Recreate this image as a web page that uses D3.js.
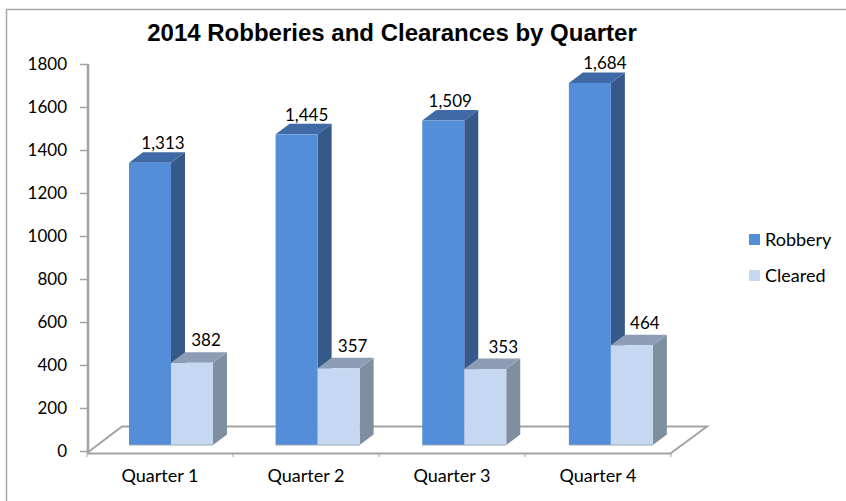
<!DOCTYPE html>
<html><head><meta charset="utf-8">
<script src="https://cdn.jsdelivr.net/npm/d3@7"></script>
<style>html,body{margin:0;padding:0;background:#fff}svg{display:block}text{fill:#000}</style>
</head><body><svg id="c" width="846" height="501"></svg>
<script>
const title = "2014 Robberies and Clearances by Quarter";
const categories = ["Quarter 1","Quarter 2","Quarter 3","Quarter 4"];
const seriesNames = ["Robbery","Cleared"];
const robbery = [1313,1445,1509,1684];
const cleared = [382,357,353,464];
const yTicks = [0,200,400,600,800,1000,1200,1400,1600,1800];

const svg = d3.select("#c");
const font = "Lato, sans-serif";
const grey = "#a3a3a3";
// depth offset of the 3D projection
const dx = 14, dy = -10.5;
// small label placement tweaks, one per series
const labelNudgeX = [[0,-3,-6,2],[1,1,5,0]];
const labelLift = [3,6];
const y = d3.scaleLinear().domain([0,1800]).range([451,64]);
const yBar = v => y(v) - 6;
const x = d3.scaleBand().domain(categories).range([87,671]);
const xB = d3.scaleBand().domain(categories).range([87,673.5]);
const bw = 42;
const xBar = (c,i) => xB(c) + 42 + i*bw;

const colors = [
 {front:"#548dd8", side:"#36598a", top:"#3f6aa5"},
 {front:"#c6d8f1", side:"#7f8f9f", top:"#8c9db5"}
];

// chart frame
svg.append("path").attr("d","M6.5,501V9.5H846").attr("fill","none").attr("stroke","#a6a6a6").attr("stroke-width",1.5);

// floor
svg.append("path")
  .attr("d",`M87,453L122,426.5H707L671,453`)
  .attr("fill","none").attr("stroke",grey).attr("stroke-width",2);

// y axis
const yAxis = d3.axisLeft(y).tickValues(yTicks).tickSize(8).tickPadding(13).tickFormat(d3.format("d"));
const gy = svg.append("g").attr("transform","translate(88,0)").call(yAxis);
gy.selectAll("line").attr("stroke",grey).attr("stroke-width",1.5);
gy.select("path").attr("stroke",grey).attr("stroke-width",2.5).attr("d","M0,64V453");
gy.selectAll("text").attr("font-family",font).attr("font-size",17);

// x axis
const xAxis = d3.axisBottom(x).tickSize(4).tickPadding(12).tickSizeOuter(0);
const gx = svg.append("g").attr("transform","translate(0,453)").call(xAxis);
gx.select("path").attr("stroke",grey).attr("stroke-width",2);
gx.selectAll(".tick line").remove();
gx.selectAll(".sep").data(d3.range(5)).join("line").attr("class","sep")
  .attr("x1",i=>x.range()[0]+i*x.step()).attr("x2",i=>x.range()[0]+i*x.step())
  .attr("y1",0).attr("y2",4).attr("stroke",grey).attr("stroke-width",1);
gx.selectAll("text").attr("font-family",font).attr("font-size",18);

// 3D bars
function bar(g,c,i,s,v){
  const x0 = xBar(c,s), x1 = x0+bw, base = yBar(0), t = yBar(v), col = colors[s];
  g.append("path").attr("d",`M${x1},${t}l${dx},${dy}V${base+dy}l${-dx},${-dy}Z`).attr("fill",col.side);
  g.append("path").attr("d",`M${x0},${t}l${dx},${dy}H${x1+dx}l${-dx},${-dy}Z`).attr("fill",col.top);
  g.append("rect").attr("x",x0).attr("y",t).attr("width",bw).attr("height",base-t).attr("fill",col.front);
  g.append("line").attr("x1",x0).attr("x2",x1).attr("y1",base).attr("y2",base).attr("stroke","#9aa6b4").attr("stroke-width",1);
}
categories.forEach((c,i)=>{
  const g = svg.append("g");
  bar(g,c,i,0,robbery[i]);
  bar(g,c,i,1,cleared[i]);
  [robbery[i],cleared[i]].forEach((v,s)=>{
    g.append("text").attr("x",xBar(c,s)+bw/2+dx-1+labelNudgeX[s][i]).attr("y",yBar(v)+dy-labelLift[s])
      .attr("text-anchor","middle").attr("font-family",font).attr("font-size",17)
      .text(d3.format(",")(v));
  });
});

// title
svg.append("text").attr("x",392).attr("y",41).attr("text-anchor","middle")
  .attr("font-family","Liberation Sans, Arial, sans-serif").attr("font-weight","bold").attr("font-size",24)
  .style("fill","#000").text(title);

// legend
const ly = d3.scalePoint().domain(seriesNames).range([239.5,275.5]);
seriesNames.forEach((n,s)=>{
  svg.append("rect").attr("x",749).attr("y",ly(n)-5.5).attr("width",11).attr("height",11).attr("fill",colors[s].front);
  svg.append("text").attr("x",765).attr("y",ly(n)+6).attr("font-family",font).attr("font-size",18).text(n);
});
</script></body></html>
